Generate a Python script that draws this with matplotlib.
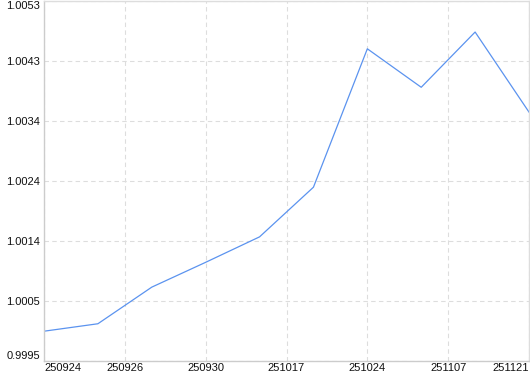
import numpy as np
import matplotlib.pyplot as plt

values = [0.99998, 1.00010, 1.00069, 1.00109, 1.00150, 1.00230,
          1.00453, 1.00391, 1.00480, 1.00351]
x_labels = ['250924', '250926', '250930', '251017', '251024', '251107', '251121']
y_min, y_max = 0.9995, 1.0053

plt.rcParams['font.family'] = ['Liberation Sans', 'DejaVu Sans']

fig = plt.figure(figsize=(5.3, 3.74), dpi=100)
ax = fig.add_axes([44/530, 13/374, 485/530, 360/374])

x = np.arange(len(values))
ax.plot(x, values, color='#5b93ef', linewidth=0.9)

ax.set_xlim(0, len(values) - 1)
ax.set_ylim(y_min, y_max)

xt = np.linspace(0, len(values) - 1, len(x_labels))
ax.set_xticks(xt)
ax.set_xticklabels(x_labels)
yt = np.linspace(y_min, y_max, 7)
ax.set_yticks(yt)
ax.set_yticklabels(['%.4f' % v for v in yt])

ax.tick_params(length=0, labelsize=8, colors='#111111')
ax.tick_params(axis='x', pad=1.5)
ax.tick_params(axis='y', pad=3)

xl = ax.get_xticklabels()
xl[0].set_horizontalalignment('left')
xl[-1].set_horizontalalignment('right')
yl = ax.get_yticklabels()
yl[0].set_verticalalignment('bottom')
yl[-1].set_verticalalignment('top')

ax.grid(True, color='#dddddd', linestyle=(0, (4, 3)), linewidth=0.8)
for s in ax.spines.values():
    s.set_color('#dddddd')
    s.set_linewidth(1)
ax.spines['left'].set_color('#cccccc')
ax.spines['bottom'].set_color('#cccccc')

fig.savefig('out.png', dpi=100)
